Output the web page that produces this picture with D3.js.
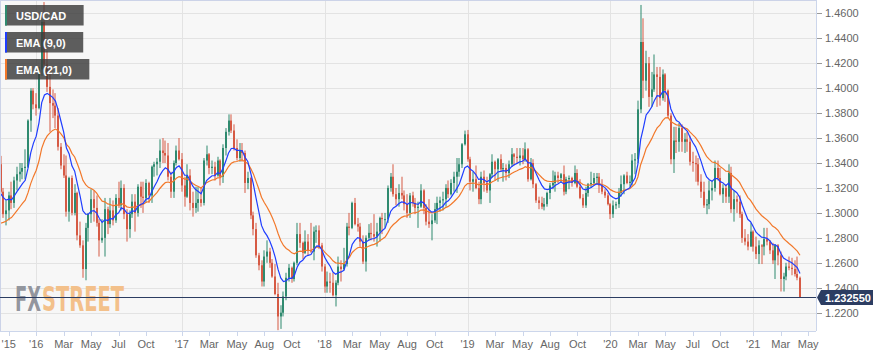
<!DOCTYPE html>
<html><head><meta charset="utf-8">
<script src="https://cdn.jsdelivr.net/npm/d3@7"></script>
<style>
body{margin:0;background:#fff;}
svg{display:block;font-family:"Liberation Sans",Arial,Helvetica,sans-serif;}
</style>
</head><body>
<svg id="chart" width="887" height="357"></svg>
<script>
// Weekly USD/CAD candles, weeks starting 2015-09-27 (Sunday), last week 2021-04-25
const firstOpen = 1.3390;
const closes = [
 1.3170,1.2990,1.3020,1.3140,1.3080,1.3260,1.3310,1.3330,1.3360,1.3370,1.3740,1.3980,1.3870,1.3840,
 1.4150,1.4530,1.4190,1.4010,1.3880,1.3860,1.3780,1.3530,1.3380,1.3300,1.3010,1.3280,1.3000,1.3160,1.2820,1.2740,1.2550,1.2880,1.2990,1.3110,1.3040,1.2920,1.2780,1.2800,1.3030,1.2910,1.3020,1.2940,1.3120,1.3060,1.3200,1.2990,1.2870,1.2990,1.3090,1.3000,1.3210,1.3130,1.3120,1.3240,1.3140,1.3370,1.3390,1.3410,1.3500,1.3480,1.3460,1.3290,1.3170,1.3400,1.3500,1.3430,
 1.3220,1.3130,1.3300,1.3080,1.3040,1.3080,1.3110,1.3080,1.3420,1.3470,1.3360,1.3370,1.3300,1.3420,1.3290,1.3520,1.3650,1.3740,1.3660,1.3520,1.3440,1.3500,1.3480,1.3240,1.3280,1.2980,1.2870,1.2660,1.2580,1.2450,1.2650,1.2690,1.2600,1.2490,1.2350,1.2170,1.2200,1.2330,1.2480,1.2560,1.2470,1.2600,1.2830,1.2760,1.2680,1.2770,1.2700,1.2690,1.2850,1.2860,1.2740,1.2570,
 1.2410,1.2450,1.2440,1.2340,1.2440,1.2570,1.2550,1.2590,1.2890,1.2880,1.3080,1.2910,1.2890,1.2770,1.2610,1.2800,1.2840,1.2830,1.2810,1.2850,1.2960,1.2950,1.2950,1.3200,1.3290,1.3150,1.3110,1.3160,1.3140,1.3070,1.3000,1.3140,1.3080,1.3040,1.3050,1.3180,1.3040,1.2930,1.2910,1.2940,1.3030,1.3080,1.3100,1.3110,1.3200,1.3150,1.3240,1.3290,1.3330,1.3390,1.3550,1.3630,1.3430,
 1.3250,1.3270,1.3200,1.3110,1.3290,1.3240,1.3180,1.3310,1.3410,1.3350,1.3430,1.3350,1.3360,1.3320,1.3390,1.3470,1.3450,1.3440,1.3460,1.3430,1.3510,1.3270,1.3400,1.3230,1.3100,1.3080,1.3050,1.3070,1.3160,1.3220,1.3240,1.3300,1.3280,1.3310,1.3170,1.3270,1.3280,1.3240,1.3320,1.3210,1.3120,1.3060,1.3160,1.3230,1.3240,1.3280,1.3290,1.3220,1.3170,1.3140,1.3070,1.2990,
 1.3060,1.3070,1.3160,1.3230,1.3300,1.3240,1.3250,1.3420,1.3430,1.3830,1.4370,1.4060,1.4200,1.3930,1.3990,1.4110,1.4090,1.3920,1.4110,1.3980,1.3780,1.3430,1.3580,1.3570,1.3680,1.3570,1.3590,1.3570,1.3410,1.3400,1.3390,1.3250,1.3170,1.3060,1.3070,1.3180,1.3200,1.3360,1.3280,1.3150,1.3200,1.3130,1.3320,1.3030,1.3110,1.3090,1.2990,1.2800,1.2770,1.2730,1.2850,1.2730,
 1.2670,1.2740,1.2730,1.2790,1.2770,1.2700,1.2620,1.2740,1.2660,1.2470,1.2490,1.2570,1.2560,1.2550,1.2510,1.2480,1.23255
];
const highs = [
 1.3457,1.3200,1.3100,1.3170,1.3250,1.3290,1.3370,1.3400,1.3400,1.3510,1.3750,1.4000,1.4000,1.3960,
 1.4170,1.4560,1.4690,1.4300,1.4170,1.3990,1.3960,1.3840,1.3560,1.3470,1.3460,1.3290,1.3300,1.3230,1.3170,1.2930,1.2780,1.2920,1.3000,1.3190,1.3180,1.3140,1.2950,1.2950,1.3120,1.3050,1.3120,1.3100,1.3150,1.3250,1.3260,1.3230,1.3030,1.3020,1.3150,1.3150,1.3230,1.3250,1.3250,1.3270,1.3250,1.3380,1.3410,1.3440,1.3590,1.3600,1.3580,1.3560,1.3330,1.3420,1.3540,1.3600,
 1.3480,1.3290,1.3390,1.3350,1.3170,1.3210,1.3210,1.3200,1.3440,1.3540,1.3480,1.3420,1.3410,1.3450,1.3430,1.3550,1.3680,1.3790,1.3790,1.3710,1.3590,1.3560,1.3560,1.3500,1.3330,1.3290,1.3010,1.2920,1.2680,1.2620,1.2700,1.2780,1.2720,1.2630,1.2590,1.2440,1.2260,1.2370,1.2520,1.2590,1.2570,1.2610,1.2920,1.2920,1.2770,1.2860,1.2830,1.2920,1.2890,1.2900,1.2900,1.2760,
 1.2590,1.2530,1.2520,1.2520,1.2460,1.2650,1.2620,1.2720,1.2920,1.3000,1.3090,1.3120,1.2960,1.2920,1.2820,1.2820,1.2910,1.2920,1.2990,1.2920,1.2970,1.3000,1.3000,1.3220,1.3320,1.3390,1.3200,1.3230,1.3290,1.3180,1.3150,1.3160,1.3170,1.3120,1.3090,1.3230,1.3190,1.3070,1.3110,1.2990,1.3080,1.3130,1.3130,1.3170,1.3230,1.3260,1.3270,1.3330,1.3440,1.3440,1.3560,1.3660,1.3665,
 1.3450,1.3330,1.3380,1.3250,1.3330,1.3340,1.3290,1.3320,1.3470,1.3420,1.3440,1.3470,1.3400,1.3390,1.3420,1.3520,1.3480,1.3520,1.3520,1.3520,1.3565,1.3520,1.3440,1.3430,1.3240,1.3130,1.3130,1.3120,1.3170,1.3240,1.3340,1.3330,1.3330,1.3320,1.3380,1.3290,1.3300,1.3290,1.3380,1.3350,1.3270,1.3150,1.3210,1.3240,1.3330,1.3320,1.3320,1.3320,1.3270,1.3190,1.3160,1.3080,
 1.3100,1.3090,1.3200,1.3300,1.3310,1.3330,1.3300,1.3470,1.3480,1.3900,1.4667,1.4560,1.4300,1.4250,1.4130,1.4270,1.4170,1.4170,1.4150,1.4120,1.3990,1.3800,1.3690,1.3690,1.3720,1.3710,1.3640,1.3650,1.3620,1.3490,1.3460,1.3440,1.3310,1.3250,1.3110,1.3260,1.3260,1.3420,1.3420,1.3360,1.3230,1.3230,1.3390,1.3370,1.3180,1.3140,1.3140,1.3010,1.2870,1.2830,1.2920,1.2860,
 1.2810,1.2780,1.2750,1.2880,1.2880,1.2780,1.2760,1.2750,1.2750,1.2690,1.2520,1.2600,1.2650,1.2640,1.2620,1.2650,1.2490
];
const lows = [
 1.3160,1.2960,1.2900,1.2940,1.3030,1.3040,1.3180,1.3250,1.3270,1.3270,1.3360,1.3650,1.3830,1.3780,
 1.3830,1.4100,1.4150,1.3970,1.3650,1.3760,1.3680,1.3500,1.3350,1.3280,1.2970,1.2930,1.2980,1.2980,1.2780,1.2720,1.2480,1.2460,1.2770,1.2920,1.2930,1.2890,1.2650,1.2760,1.2650,1.2830,1.2880,1.2900,1.2920,1.3040,1.3020,1.2950,1.2770,1.2800,1.2960,1.2850,1.2970,1.3040,1.3000,1.3080,1.3080,1.3080,1.3290,1.3300,1.3360,1.3400,1.3400,1.3260,1.3120,1.3120,1.3380,1.3420,
 1.3170,1.3050,1.3120,1.3020,1.2970,1.3000,1.3010,1.3050,1.3060,1.3380,1.3310,1.3310,1.3260,1.3290,1.3220,1.3240,1.3460,1.3620,1.3640,1.3500,1.3420,1.3410,1.3410,1.3160,1.3190,1.2950,1.2820,1.2640,1.2540,1.2410,1.2410,1.2600,1.2560,1.2480,1.2340,1.2060,1.2070,1.2170,1.2300,1.2450,1.2440,1.2450,1.2580,1.2720,1.2630,1.2670,1.2660,1.2680,1.2620,1.2760,1.2710,1.2530,
 1.2360,1.2360,1.2360,1.2330,1.2250,1.2420,1.2450,1.2540,1.2570,1.2820,1.2870,1.2900,1.2850,1.2730,1.2590,1.2530,1.2780,1.2780,1.2770,1.2730,1.2770,1.2830,1.2880,1.2920,1.3170,1.3130,1.3060,1.3050,1.3110,1.3020,1.2960,1.2960,1.3050,1.2990,1.2880,1.3040,1.2990,1.2900,1.2880,1.2780,1.2920,1.2910,1.3010,1.3020,1.3050,1.3120,1.3140,1.3170,1.3160,1.3290,1.3360,1.3540,1.3410,
 1.3180,1.3170,1.3190,1.3070,1.3070,1.3170,1.3160,1.3080,1.3280,1.3260,1.3250,1.3330,1.3250,1.3260,1.3280,1.3370,1.3380,1.3400,1.3380,1.3390,1.3410,1.3250,1.3260,1.3200,1.3080,1.3030,1.3030,1.3020,1.3050,1.3110,1.3190,1.3170,1.3240,1.3240,1.3140,1.3150,1.3190,1.3210,1.3230,1.3200,1.3110,1.3040,1.3040,1.3130,1.3200,1.3230,1.3240,1.3160,1.3150,1.3120,1.3060,1.2950,
 1.2960,1.3030,1.3040,1.3130,1.3150,1.3230,1.3210,1.3220,1.3310,1.3400,1.3800,1.3920,1.3980,1.3850,1.3850,1.3970,1.3850,1.3860,1.3900,1.3890,1.3760,1.3390,1.3320,1.3480,1.3490,1.3490,1.3480,1.3490,1.3380,1.3330,1.3250,1.3220,1.3120,1.3040,1.2990,1.3030,1.3100,1.3170,1.3260,1.3140,1.3080,1.3080,1.3080,1.3000,1.2930,1.3000,1.2960,1.2760,1.2740,1.2700,1.2730,1.2690,
 1.2630,1.2590,1.2590,1.2660,1.2740,1.2670,1.2590,1.2470,1.2580,1.2370,1.2370,1.2460,1.2540,1.2500,1.2490,1.2460,1.2320
];
// EMA values at the first visible week
const ema9Start = 1.3157;
const ema21Start = 1.2917;
// x-axis ticks: candle index and label
const tickIdx    = [3,13,23,33,43,53,66,76,86,96,106,118,128,138,148,158,170,180,190,200,210,222,232,242,252,262,274,284,294];
const tickLabels = ["'15","'16","Mar","May","Jul","Oct","'17","Mar","May","Aug","Oct","'18","Mar","May","Aug","Oct","'19","Mar","May","Aug","Oct","'20","Mar","May","Jul","Oct","'21","Mar","May"];
const yTicks = [1.22,1.24,1.26,1.28,1.30,1.32,1.34,1.36,1.38,1.40,1.42,1.44,1.46];
const lastPrice = 1.232550;
const legendLabels = ["USD/CAD","EMA (9,0)","EMA (21,0)"];

const UP = "#2f8a6f", DOWN = "#d65a44", BLUE = "#1f3dff", ORANGE = "#f2782a";
const PW = 816, PH = 331;

const svg = d3.select("#chart");
const n = closes.length;
const opens = closes.map((c,i)=> i===0 ? firstOpen : closes[i-1]);
const x = d3.scaleLinear().domain([0, n-1]).range([0.5, 800]);
const y = d3.scaleLinear().domain([1.20533, 1.47066]).range([PH, 0]);

function ema(period, start){
  const a = 2/(period+1), out=[start];
  for(let i=1;i<n;i++) out.push(a*closes[i] + (1-a)*out[i-1]);
  return out;
}
const e9 = ema(9, ema9Start), e21 = ema(21, ema21Start);

svg.append("defs").append("clipPath").attr("id","pc")
  .append("rect").attr("x",0).attr("y",0).attr("width",PW).attr("height",PH);

svg.append("rect").attr("x",0).attr("y",0).attr("width",PW).attr("height",PH).attr("fill","#f7f7f7");

// horizontal grid
svg.append("g").selectAll("line").data(yTicks).join("line")
  .attr("x1",0).attr("x2",PW)
  .attr("y1",d=>Math.round(y(d))+0.5).attr("y2",d=>Math.round(y(d))+0.5)
  .attr("stroke","#e3e3e3").attr("stroke-width",1);
// vertical grid at year ticks
const yearTicks = tickIdx.filter((t,i)=>tickLabels[i].startsWith("'") && i>0);
svg.append("g").selectAll("line").data(yearTicks).join("line")
  .attr("x1",d=>Math.round(x(d))+0.5).attr("x2",d=>Math.round(x(d))+0.5)
  .attr("y1",0).attr("y2",PH)
  .attr("stroke","#e3e3e3").attr("stroke-width",1);

// watermark
const wm = svg.append("text").attr("y",311).attr("font-family","'DejaVu Sans Condensed','Liberation Sans Narrow','DejaVu Sans',sans-serif")
  .attr("font-size",33).attr("font-weight","bold");
wm.append("tspan").attr("x",15).attr("fill","#8d9099").attr("fill-opacity",0.95).attr("textLength",26).attr("lengthAdjust","spacingAndGlyphs").text("FX");
wm.append("tspan").attr("x",42).attr("fill","#f3c08a").attr("textLength",82).attr("lengthAdjust","spacingAndGlyphs").text("STREET");

// candles
const cg = svg.append("g").attr("clip-path","url(#pc)");
const idx = d3.range(n);
cg.selectAll("rect.w").data(idx).join("rect").attr("class","w")
  .attr("x",i=>Math.round(x(i))-0.5).attr("width",1)
  .attr("y",i=>y(highs[i])).attr("height",i=>Math.max(1,y(lows[i])-y(highs[i])))
  .attr("fill",i=>closes[i]>=opens[i]?UP:DOWN);
cg.selectAll("rect.b").data(idx).join("rect").attr("class","b")
  .attr("x",i=>Math.round(x(i))-1).attr("width",2)
  .attr("y",i=>y(Math.max(opens[i],closes[i])))
  .attr("height",i=>Math.max(1,Math.abs(y(opens[i])-y(closes[i]))))
  .attr("fill",i=>closes[i]>=opens[i]?UP:DOWN);

// EMA lines
const line = d3.line().x((d,i)=>x(i)).y(d=>y(d));
cg.append("path").datum(e21).attr("d",line).attr("fill","none").attr("stroke",ORANGE).attr("stroke-width",1.2);
cg.append("path").datum(e9).attr("d",line).attr("fill","none").attr("stroke",BLUE).attr("stroke-width",1.2);

// plot borders
svg.append("line").attr("x1",0).attr("x2",PW).attr("y1",0.5).attr("y2",0.5).attr("stroke","#ccd3e8");
svg.append("line").attr("x1",0.5).attr("x2",0.5).attr("y1",0).attr("y2",PH).attr("stroke","#ccd3e8");
svg.append("line").attr("x1",PW+0.5).attr("x2",PW+0.5).attr("y1",0).attr("y2",PH).attr("stroke","#ccd6eb");
svg.append("line").attr("x1",0).attr("x2",PW).attr("y1",PH+0.5).attr("y2",PH+0.5).attr("stroke","#ccd6eb");

// right axis
const ra = svg.append("g");
ra.selectAll("line").data(yTicks).join("line")
  .attr("x1",PW+1).attr("x2",PW+6)
  .attr("y1",d=>Math.round(y(d))+0.5).attr("y2",d=>Math.round(y(d))+0.5)
  .attr("stroke","#999");
ra.selectAll("text").data(yTicks).join("text")
  .attr("x",825).attr("y",d=>y(d)+4).attr("font-size",11).attr("fill","#666")
  .text(d=>d.toFixed(4));

// bottom axis
const ba = svg.append("g");
ba.selectAll("line").data(tickIdx).join("line")
  .attr("x1",d=>Math.round(x(d))+0.5).attr("x2",d=>Math.round(x(d))+0.5)
  .attr("y1",PH).attr("y2",PH+5).attr("stroke","#ccd6eb");
ba.selectAll("text").data(tickIdx).join("text")
  .attr("x",d=>x(d)).attr("y",347.5).attr("text-anchor","middle")
  .attr("font-size",11).attr("fill","#666")
  .text((d,i)=>tickLabels[i]);

// current price line + label
const py = Math.round(y(lastPrice))+0.5;
svg.append("line").attr("x1",0).attr("x2",PW).attr("y1",py).attr("y2",py).attr("stroke","#2c3d62").attr("stroke-width",1);
svg.append("path").attr("d",`M817,${py} L821,${py-7.5} L873,${py-7.5} L873,${py+7.5} L821,${py+7.5} Z`).attr("fill","#2c3d62");
svg.append("text").attr("x",825).attr("y",py+4).attr("font-size",11).attr("font-weight","bold").attr("fill","#fff").text(lastPrice.toFixed(6));

// legend
const lc = [UP, BLUE, ORANGE];
const ly = [5, 32, 59];
legendLabels.forEach((lab,i)=>{
  const g = svg.append("g");
  const r = g.append("rect").attr("x",5).attr("y",ly[i]).attr("height",20.5).attr("fill","rgba(58,58,58,0.82)");
  const t = g.append("text").attr("x",16).attr("y",ly[i]+14.8).attr("font-size",11).attr("font-weight","bold").attr("fill","#fff").text(lab);
  const w = t.node().getComputedTextLength();
  r.attr("width", w + 28.5);
  g.append("rect").attr("x",5).attr("y",ly[i]).attr("width",2).attr("height",20.5).attr("fill",lc[i]);
});
</script>
</body></html>
